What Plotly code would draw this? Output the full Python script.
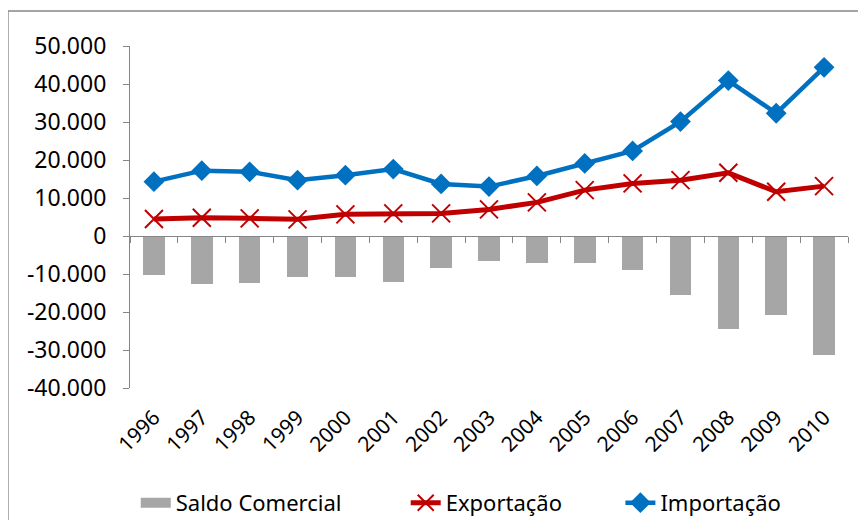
import plotly.graph_objects as go

# Dados (milhões US$)
anos = ["1996", "1997", "1998", "1999", "2000", "2001", "2002", "2003",
        "2004", "2005", "2006", "2007", "2008", "2009", "2010"]
exportacao = [4470, 4800, 4640, 4380, 5700, 5950, 5950, 7000,
              8850, 12080, 13840, 14700, 16630, 11640, 13130]
importacao = [14300, 17200, 16900, 14700, 16000, 17600, 13700, 13000,
              15800, 19100, 22400, 30100, 40900, 32300, 44400]
saldo = [-10200, -12500, -12300, -10700, -10800, -12000, -8300, -6500,
         -7200, -7000, -8900, -15500, -24500, -20800, -31300]

y_ticks = [-40000, -30000, -20000, -10000, 0, 10000, 20000, 30000, 40000, 50000]
y_ticktext = ["-40.000", "-30.000", "-20.000", "-10.000", "0",
              "10.000", "20.000", "30.000", "40.000", "50.000"]

fonte = "Noto Sans"
cinza = "#A6A6A6"

fig = go.Figure()
fig.add_trace(go.Bar(x=anos, y=saldo, name="Saldo Comercial",
                     marker=dict(color=cinza, line=dict(width=0)),
                     width=0.45, xaxis="x2", showlegend=False))
# entrada de legenda retangular como no Excel
fig.add_trace(go.Scatter(x=[None], y=[None], name="Saldo Comercial", mode="lines",
                         line=dict(color=cinza, width=15), legend="legend"))
fig.add_trace(go.Scatter(x=anos, y=exportacao, name="Exportação", mode="lines+markers",
                         line=dict(color="#C00000", width=5),
                         marker=dict(symbol="x-thin", size=18, color="#C00000",
                                     line=dict(color="#C00000", width=2)),
                         legend="legend2"))
fig.add_trace(go.Scatter(x=anos, y=importacao, name="Importação", mode="lines+markers",
                         line=dict(color="#0070C0", width=4.5),
                         marker=dict(symbol="diamond", size=16, color="#0070C0"),
                         legend="legend3"))

zero_pos = 40000 / 90000
leg_y = -0.336


def legenda(x):
    return dict(orientation="h", x=x, xanchor="left", y=leg_y, yanchor="middle",
                font=dict(size=22), bgcolor="rgba(0,0,0,0)")


fig.update_layout(
    width=866, height=520,
    margin=dict(l=122, r=26, t=38, b=140, autoexpand=False),
    paper_bgcolor="white", plot_bgcolor="white",
    font=dict(family=fonte, size=22, color="black"),
    showlegend=True,
    legend=legenda(0.008),
    legend2=legenda(0.384),
    legend3=legenda(0.683),
    xaxis=dict(type="category", categoryorder="array", categoryarray=anos,
               range=[-0.5, 14.5], showline=False, showgrid=False, zeroline=False,
               ticks="outside", ticklen=8, tickcolor="rgba(0,0,0,0)",
               tickangle=-45, tickfont=dict(size=21), automargin=False),
    xaxis2=dict(type="category", categoryorder="array", categoryarray=anos,
                range=[-0.5, 14.5], overlaying="x", anchor="free", position=zero_pos,
                showline=True, linecolor="#868686", linewidth=1.2,
                ticks="outside", tickson="boundaries", ticklen=6, tickcolor="#868686",
                showticklabels=False, showgrid=False, zeroline=False),
    yaxis=dict(range=[-40000, 50000], tickvals=y_ticks, ticktext=y_ticktext,
               showline=True, linecolor="#868686", linewidth=1.2,
               ticks="outside", ticklen=6, tickcolor="#868686",
               ticklabelstandoff=12, automargin=False,
               showgrid=False, zeroline=False, tickfont=dict(size=23)),
    bargap=0,
    shapes=[dict(type="rect", xref="paper", yref="paper",
                 x0=-0.17, x1=1.03, y0=-0.42, y1=1.102,
                 line=dict(color="#888888", width=1.5), fillcolor="rgba(0,0,0,0)",
                 layer="below")],
)

fig.write_html("out.html")
